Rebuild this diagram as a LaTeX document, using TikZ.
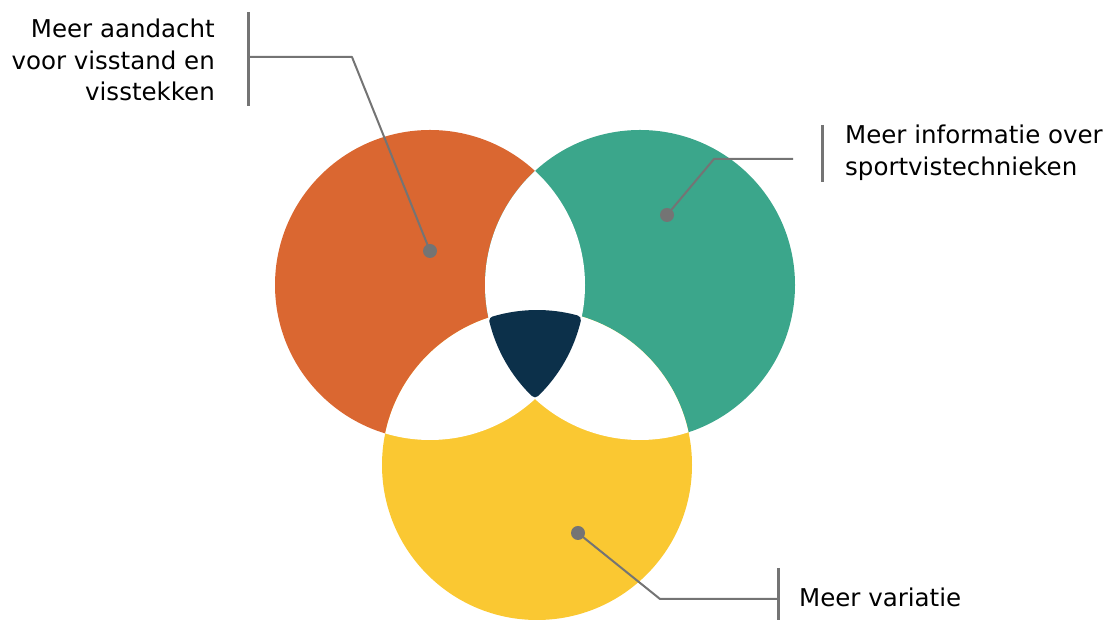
\documentclass[tikz,border=0pt]{standalone}
\usepackage{fontspec}
\setmainfont{DejaVu Sans}
\definecolor{vorange}{HTML}{DA6731}
\definecolor{vteal}{HTML}{3BA68B}
\definecolor{vyellow}{HTML}{FAC832}
\definecolor{vnavy}{HTML}{0C304A}
\definecolor{vgray}{HTML}{747474}
\begin{document}
\begin{tikzpicture}[x=1pt,y=1pt,
  blob/.style={circle,minimum size=310pt,inner sep=0pt,draw=none},
  lead/.style={draw=vgray,line width=2pt,line join=round},
  bar/.style={draw=vgray,line width=3pt},
  dot/.style={circle,fill=vgray,minimum size=14pt,inner sep=0pt},
  lbl/.style={inner sep=0pt,font=\fontsize{24.5}{31.5}\selectfont}]
\useasboundingbox (0,0) rectangle (1112,620);
% circles
\node[blob,fill=vorange] (cO) at (430,335) {};
\node[blob,fill=vteal]   (cT) at (640,335) {};
\node[blob,fill=vyellow] (cY) at (537,155) {};
% white pairwise overlaps
\begin{scope}
  \clip (430,335) circle[radius=155];
  \fill[white] (640,335) circle[radius=155];
  \fill[white] (537,155) circle[radius=155];
\end{scope}
\begin{scope}
  \clip (640,335) circle[radius=155];
  \fill[white] (537,155) circle[radius=155];
\end{scope}
% navy centre
\filldraw[fill=vnavy,draw=vnavy,line width=9pt,line join=round]
  (493.84,299.16) arc[start angle=106.67,end angle=74.81,radius=150.5]
  arc[start angle=-13.35,end angle=-45.76,radius=150.5]
  arc[start angle=225.76,end angle=193.78,radius=150.5] -- cycle;
% orange label
\node[dot] (dO) at (430,369) {};
\coordinate (kO) at (352,563);
\coordinate (hO) at (248,563);
\coordinate (bOt) at (248,608);
\coordinate (bOb) at (248,514);
\draw[bar] (bOt) -- (bOb);
\draw[lead] (dO.center) -- (kO) -- (hO);
\node[lbl,anchor=north east,align=right] (tO) at (215,601)
  {Meer aandacht\\voor visstand en\\visstekken};
% teal label
\node[dot] (dT) at (667,405) {};
\coordinate (kT) at (714,461);
\coordinate (hT) at (793,461);
\coordinate (bTt) at (822.5,495);
\coordinate (bTb) at (822.5,438);
\draw[bar] (bTt) -- (bTb);
\draw[lead] (dT.center) -- (kT) -- (hT);
\node[lbl,anchor=north west,align=left] (tT) at (845,495)
  {Meer informatie over\\sportvistechnieken};
% yellow label
\node[dot] (dY) at (578,87) {};
\coordinate (kY) at (660,21);
\coordinate (hY) at (778,21);
\coordinate (bYt) at (778,52);
\coordinate (bYb) at (778,0);
\draw[bar] (bYt) -- (bYb);
\draw[lead] (dY.center) -- (kY) -- (hY);
\node[lbl,anchor=base west] (tY) at (799,13) {Meer variatie};
\end{tikzpicture}
\end{document}
